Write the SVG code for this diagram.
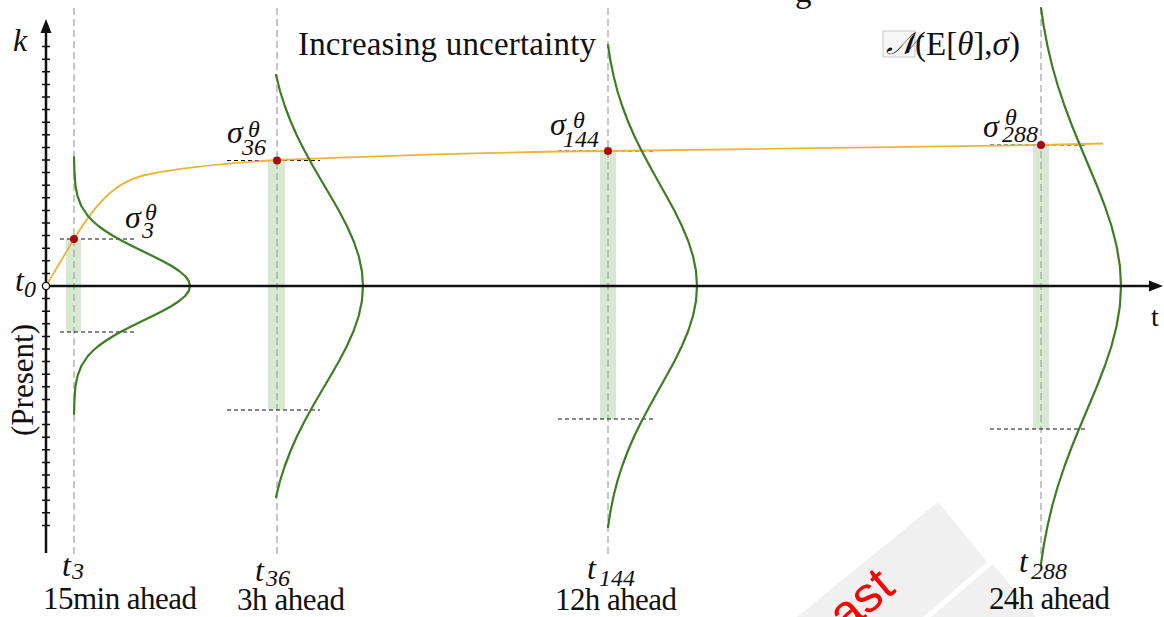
<svg xmlns="http://www.w3.org/2000/svg" width="1164" height="617" viewBox="0 0 1164 617">
<defs>
<style>
.serif{font-family:"Liberation Serif","Times New Roman",serif;fill:#111}
.it{font-style:italic}
.lbl{font-size:33px}
.bot{font-size:31px}
.sym{font-size:32px}
.sub{font-size:24px}
.vdash{stroke:#a8a8a8;stroke-width:1.3;stroke-dasharray:7 4;fill:none}
.hdash{stroke:#111;stroke-width:1.2;stroke-dasharray:4 3;fill:none}
.bell{stroke:#3f7d24;stroke-width:2.2;fill:none;stroke-linejoin:round;stroke-linecap:round}
.bar{fill:#d7e9d3}
.dot{fill:#a50d0d}
.axis{stroke:#111;stroke-width:2.5;fill:none}
</style>
</defs>
<rect width="1164" height="617" fill="#fff"/>

<!-- watermark -->
<g id="watermark">
<polygon points="797,617 938,502 987,562 923,617" fill="#f0f0f0"/>
<polygon points="931,617 993,564 1036,617" fill="#f0f0f0"/>
<text x="846" y="634" transform="rotate(-40 846 634)" font-family="Liberation Sans, Arial, sans-serif" font-size="50" fill="#ff0000">ast</text>
</g>

<!-- title fragment cut at top edge -->
<g id="title-fragment">
<text class="serif lbl" x="795" y="2">g</text>
</g>

<!-- green bars -->
<g id="bars">
<rect class="bar" x="66" y="239" width="15" height="93"/>
<rect class="bar" x="268" y="160" width="17" height="250"/>
<rect class="bar" x="600" y="151" width="16" height="268"/>
<rect class="bar" x="1033" y="145" width="16" height="284"/>
</g>

<!-- connectors / guides -->
<g id="connectors">
<line class="vdash" x1="74" y1="8" x2="74" y2="558"/>
<line class="vdash" x1="277" y1="8" x2="277" y2="558"/>
<line class="vdash" x1="608" y1="8" x2="608" y2="558"/>
<line class="vdash" x1="1041" y1="8" x2="1041" y2="558"/>
<line class="hdash" x1="60" y1="239" x2="137" y2="239"/>
<line class="hdash" x1="60" y1="332" x2="137" y2="332"/>
<line class="hdash" x1="227" y1="160.5" x2="320" y2="160.5"/>
<line class="hdash" x1="227" y1="410" x2="320" y2="410"/>
<line class="hdash" x1="558" y1="151" x2="653" y2="151"/>
<line class="hdash" x1="558" y1="419" x2="653" y2="419"/>
<line class="hdash" x1="990" y1="145" x2="1086" y2="145"/>
<line class="hdash" x1="990" y1="429" x2="1086" y2="429"/>
<path d="M46,286 L74,239 C95,205 115,180 150,174 C180,168 230,163 277,160 C400,155 500,152 608,151 C800,148 950,146 1041,145 L1103,143.5" fill="none" stroke="#ecb53a" stroke-width="1.8"/>
</g>

<!-- bell curves -->
<g id="bells">
<polyline class="bell" points="74,157 74.4,171 75.5,186 77.5,196 81.3,206 87.9,216 92.7,221 98.4,226 105.4,231 113.3,236 122.3,241 132.1,246 142.3,251 152.6,256 162.5,261 171.6,266 179.2,271 185.1,276 188.8,281 190,286 188.8,291 185.1,296 179.2,301 171.6,306 162.5,311 152.6,316 142.3,321 132.1,326 122.3,331 113.3,336 105.4,341 98.4,346 92.7,351 87.9,356 81.3,366 77.5,376 75.5,386 74.4,401 74,414"/>
<polyline class="bell" points="276,75 280,91 284.8,106 290.5,121 297.1,136 304.7,151 312.9,166 321.6,181 330.5,196 339.1,211 346.9,226 353.6,241 358.7,256 361.9,271 363,286 361.9,301 358.7,316 353.6,331 346.9,346 339.1,361 330.5,376 321.6,391 312.9,406 304.7,421 297.1,436 290.5,451 284.8,466 280,481 276,497"/>
<polyline class="bell" points="608,45 610.5,61 613.6,76 617.4,91 622.2,106 627.8,121 634.3,136 641.7,151 649.7,166 658,181 666.4,196 674.6,211 681.9,226 688.2,241 693,256 696,271 697,286 696,301 693,316 688.2,331 681.9,346 674.6,361 666.4,376 658,391 649.7,406 641.7,421 634.3,436 627.8,451 622.2,466 617.4,481 613.6,496 610.5,511 608,527"/>
<polyline class="bell" points="1041,8 1043.7,26 1047.5,46 1052.2,66 1057.9,86 1064.6,106 1072.1,126 1080.3,146 1088.7,166 1097.1,186 1104.8,206 1111.5,226 1116.6,246 1119.9,266 1121,286 1119.9,306 1116.6,326 1111.5,346 1104.8,366 1097.1,386 1088.7,406 1080.3,426 1072.1,446 1064.6,466 1057.9,486 1052.2,506 1047.5,526 1043.7,546 1041,564"/>
</g>

<!-- axes -->
<g id="axes">
<line class="axis" x1="46" y1="30" x2="46" y2="553"/>
<polygon points="46,19 40.5,33 51.5,33" fill="#111"/>
<line class="axis" x1="46" y1="286" x2="1152" y2="286"/>
<polygon points="1163,286 1149,280.5 1149,291.5" fill="#111"/>
<path stroke="#111" stroke-width="1.5" d="M42,273.4h8M42,260.8h8M42,248.2h8M42,235.6h8M42,223h8M42,210.4h8M42,197.8h8M42,185.2h8M42,172.6h8M42,160h8M42,147.4h8M42,134.8h8M42,122.2h8M42,109.6h8M42,97h8M42,84.4h8M42,71.8h8M42,59.2h8M42,46.6h8M42,298.6h8M42,311.2h8M42,323.8h8M42,336.4h8M42,349h8M42,361.6h8M42,374.2h8M42,386.8h8M42,399.4h8M42,412h8M42,424.6h8M42,437.2h8M42,449.8h8M42,462.4h8M42,475h8M42,487.6h8M42,500.2h8M42,512.8h8M42,525.4h8"/>
<circle cx="46" cy="286" r="3.6" fill="#fff" stroke="#111" stroke-width="1.4"/>
</g>

<!-- red dots -->
<g id="points">
<circle class="dot" cx="74" cy="239" r="4"/>
<circle class="dot" cx="277" cy="160.5" r="4"/>
<circle class="dot" cx="608" cy="151" r="4"/>
<circle class="dot" cx="1041" cy="145" r="4"/>
</g>

<!-- labels -->
<g id="axis-labels">
<text class="serif it sym" x="13" y="51">k</text>
<text class="serif it sym" x="15" y="291">t<tspan class="sub" x="24" y="297">0</tspan></text>
<text class="serif" font-size="31" transform="translate(33,380) rotate(-90)" text-anchor="middle">(Present)</text>
<text class="serif" font-size="28" x="1151" y="326">t</text>
</g>

<g id="title">
<text class="serif lbl" x="298" y="55" textLength="298">Increasing uncertainty</text>
</g>

<g id="legend">
<rect x="883" y="31" width="32" height="26" fill="#f7f7f7" stroke="#c8c8c8" stroke-width="1"/>
<text class="serif it" font-size="31" x="886" y="54">𝒩</text>
<text class="serif lbl" x="915" y="55">(E[<tspan class="it">θ</tspan>],<tspan class="it">σ</tspan>)</text>
</g>

<g id="sigma3">
<text class="serif it sym" x="125" y="228">σ<tspan class="sub" x="145" y="220">θ</tspan><tspan class="sub" x="142" y="238">3</tspan></text>
</g>
<g id="sigma36">
<text class="serif it sym" x="227" y="143">σ<tspan class="sub" x="248" y="137">θ</tspan><tspan class="sub" x="242" y="155">36</tspan></text>
</g>
<g id="sigma144">
<text class="serif it sym" x="550" y="135">σ<tspan class="sub" x="573" y="128">θ</tspan><tspan class="sub" x="563" y="147">144</tspan></text>
</g>
<g id="sigma288">
<text class="serif it sym" x="983" y="137">σ<tspan class="sub" x="1005" y="125">θ</tspan><tspan class="sub" x="1002" y="142">288</tspan></text>
</g>

<g id="t3">
<text class="serif it sym" x="62" y="576">t<tspan class="sub" x="72" y="579">3</tspan></text>
<text class="serif bot" x="43" y="609" textLength="154">15min ahead</text>
</g>
<g id="t36">
<text class="serif it sym" x="255" y="581">t<tspan class="sub" x="266" y="586">36</tspan></text>
<text class="serif bot" x="237" y="610" textLength="108">3h ahead</text>
</g>
<g id="t144">
<text class="serif it sym" x="587" y="579">t<tspan class="sub" x="599" y="586">144</tspan></text>
<text class="serif bot" x="555" y="610" textLength="122">12h ahead</text>
</g>
<g id="t288">
<text class="serif it sym" x="1019" y="572">t<tspan class="sub" x="1031" y="579">288</tspan></text>
<text class="serif bot" x="989" y="609" textLength="121">24h ahead</text>
</g>
</svg>
